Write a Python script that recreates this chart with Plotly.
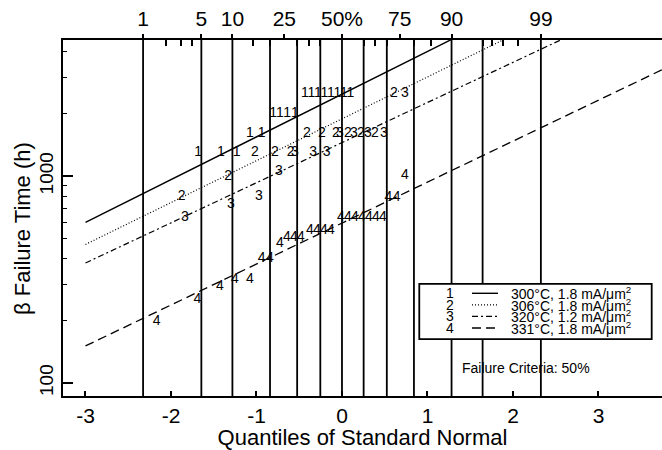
import plotly.graph_objects as go
from statistics import NormalDist

nd = NormalDist()
FONT = "Liberation Sans, Arial, sans-serif"

# ---------------- data ----------------
series_names = ["1", "2", "3", "4"]
legend_labels = ["300°C, 1.8 mA/μm<sup>2</sup>", "306°C, 1.8 mA/μm<sup>2</sup>",
                 "320°C, 1.2 mA/μm<sup>2</sup>", "331°C, 1.8 mA/μm<sup>2</sup>"]

q1 = [-1.681, -1.415, -1.232, -1.076, -0.939, -0.804, -0.725, -0.640, -0.550,
      -0.433, -0.357, -0.281, -0.205, -0.129, -0.053, 0.023, 0.099]
t1 = [1296, 1296, 1296, 1608, 1608, 2009, 2009, 2009, 2009,
      2508, 2508, 2508, 2508, 2508, 2508, 2508, 2508]

q2 = [-1.875, -1.330, -1.018, -0.784, -0.600, -0.409, -0.234, -0.070, 0.070, 0.222, 0.386, 0.608]
t2 = [796, 1000, 1296, 1296, 1296, 1608, 1608, 1608, 1608, 1608, 1608, 2508]

q3 = [-1.836, -1.298, -0.971, -0.737, -0.550, -0.336, -0.179, -0.023, 0.140, 0.304, 0.491, 0.737]
t3 = [631, 732, 796, 1057, 1296, 1296, 1296, 1608, 1608, 1608, 1608, 2508]

q4 = [-2.167, -1.692, -1.427, -1.251, -1.076, -0.939, -0.842, -0.725, -0.643, -0.561, -0.480,
      -0.374, -0.292, -0.211, -0.129, -0.012, 0.070, 0.152, 0.234, 0.316, 0.398, 0.480,
      0.542, 0.640, 0.737]
t4 = [198, 252, 292, 315, 315, 400, 400, 473, 505, 505, 505,
      548, 548, 548, 548, 631, 631, 631, 631, 631, 631, 631,
      789, 789, 1011]

# fitted lognormal lines: log10(t) = intercept + slope * q
fit_intercept = [3.396, 3.277, 3.162, 2.773]
fit_slope = [0.2065, 0.2024, 0.194, 0.198]
fit_q = [-3.0, 4.5]
fit_dash = ["solid", "1px,2px", "6px,3px,2px,3px", "9px,5px"]
fit_width = [1.4, 1.2, 1.2, 1.3]

# probability scale (top axis)
pct_labels = [1, 5, 10, 25, 50, 75, 90, 99]
pct_text = ["1", "5", "10", "25", "50%", "75", "90", "99"]
pct_minor = [2, 3, 4, 15, 20, 30, 35, 40, 60, 65, 70, 80, 85, 95, 96, 97, 98]
pct_lines = [1, 5, 10, 20, 30, 40, 50, 60, 70, 80, 90, 95, 99]

x_ticks = [-3, -2, -1, 0, 1, 2, 3]
x_range = [-3.263, 3.743]
y_range_log = [1.937, 3.658]

# ---------------- figure ----------------
def quant(p):
    return nd.inv_cdf(p / 100.0)

fig = go.Figure()

all_q = [q1, q2, q3, q4]
all_t = [t1, t2, t3, t4]

for i in range(4):
    ys = [10 ** (fit_intercept[i] + fit_slope[i] * q) for q in fit_q]
    fig.add_trace(go.Scatter(x=fit_q, y=ys, mode="lines",
                             line=dict(color="black", width=fit_width[i], dash=fit_dash[i]),
                             showlegend=False, hoverinfo="skip"))

for i in range(4):
    fig.add_trace(go.Scatter(x=all_q[i], y=all_t[i], mode="text",
                             text=[series_names[i]] * len(all_q[i]),
                             textposition="middle center",
                             textfont=dict(family=FONT, size=14, color="black"),
                             showlegend=False, hoverinfo="skip"))

# invisible trace to activate the top (probability) axis
fig.add_trace(go.Scatter(x=[0], y=[1000], xaxis="x2", mode="markers",
                         marker=dict(opacity=0), showlegend=False, hoverinfo="skip"))

shapes = []
for p in pct_lines:
    qv = quant(p)
    shapes.append(dict(type="line", xref="x", yref="paper", x0=qv, x1=qv, y0=0, y1=1,
                       line=dict(color="black", width=1.8), layer="below"))

# legend box (paper coordinates)
lx0, lx1, ly0, ly1 = 0.5948, 0.9828, 0.1600, 0.3150
shapes.append(dict(type="rect", xref="paper", yref="paper", x0=lx0, x1=lx1, y0=ly0, y1=ly1,
                   fillcolor="white", line=dict(color="black", width=1.8), layer="above"))
row_y = [0.2885, 0.2560, 0.2235, 0.1910]
annotations = []
for i in range(4):
    shapes.append(dict(type="line", xref="paper", yref="paper", x0=0.6828, x1=0.7262,
                       y0=row_y[i], y1=row_y[i],
                       line=dict(color="black", width=fit_width[i], dash=fit_dash[i]),
                       layer="above"))
    annotations.append(dict(xref="paper", yref="paper", x=0.646, y=row_y[i],
                            text=series_names[i], showarrow=False, xanchor="center",
                            yanchor="middle", font=dict(family=FONT, size=14, color="black")))
    annotations.append(dict(xref="paper", yref="paper", x=0.7445, y=row_y[i],
                            text=legend_labels[i], showarrow=False, xanchor="left",
                            yanchor="middle", font=dict(family=FONT, size=14, color="black")))

annotations.append(dict(xref="paper", yref="paper", x=0.773, y=0.079,
                        text="Failure Criteria: 50%", showarrow=False, xanchor="center",
                        yanchor="middle", font=dict(family=FONT, size=14, color="black")))

# y-axis title as annotation (placed slightly below plot centre, as in the reference)
annotations.append(dict(xref="paper", yref="paper", x=-0.068, y=0.47,
                        text="β Failure Time (h)", showarrow=False, textangle=-90,
                        xanchor="center", yanchor="middle",
                        font=dict(family=FONT, size=22, color="black")))

fig.update_layout(
    width=662, height=450,
    margin=dict(l=63, r=0, t=40, b=54),
    paper_bgcolor="white", plot_bgcolor="white",
    font=dict(family=FONT, color="black"),
    shapes=shapes, annotations=annotations,
    xaxis=dict(range=x_range, tickvals=x_ticks, ticktext=[str(v) for v in x_ticks],
               ticks="inside", ticklen=5, tickwidth=1.5, tickcolor="black",
               showline=True, linewidth=2, linecolor="black", mirror=False,
               showgrid=False, zeroline=False,
               tickfont=dict(size=21, family=FONT),
               title=dict(text="Quantiles of Standard Normal", font=dict(size=22, family=FONT),
                          standoff=2)),
    xaxis2=dict(overlaying="x", side="top", anchor="y", range=x_range,
                tickvals=[quant(p) for p in pct_labels], ticktext=pct_text,
                ticks="outside", ticklen=4, tickwidth=1.8, tickcolor="black",
                minor=dict(tickvals=[quant(p) for p in pct_minor], ticks="inside",
                           ticklen=6, tickwidth=1.5, tickcolor="black"),
                showline=True, linewidth=2, linecolor="black",
                showgrid=False, zeroline=False,
                tickfont=dict(size=21, family=FONT)),
    yaxis=dict(type="log", range=y_range_log, tickvals=[100, 1000], ticktext=["100", "1000"],
               tickangle=-90, ticks="inside", ticklen=10, tickwidth=1.5, tickcolor="black",
               minor=dict(tickvals=[200, 300, 400, 500, 600, 700, 800, 900, 2000, 3000, 4000],
                          ticks="inside", ticklen=4, tickwidth=1.2, tickcolor="black"),
               showline=True, linewidth=2, linecolor="black", mirror=False,
               showgrid=False, zeroline=False,
               tickfont=dict(size=19, family=FONT)),
)

fig.write_html("out.html")
